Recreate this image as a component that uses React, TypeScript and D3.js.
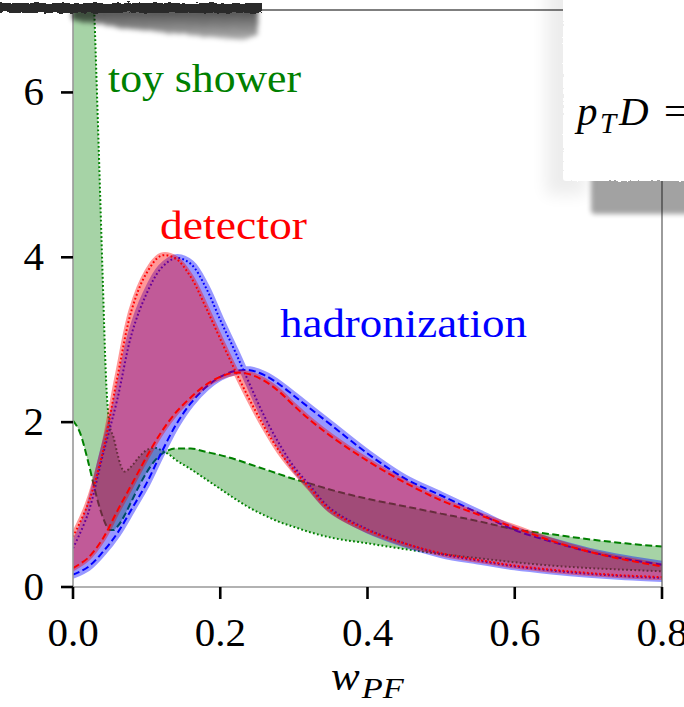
import React from "react";
import * as d3 from "d3";

// Axis ticks
const xTickValues = [0, 0.2, 0.4, 0.6, 0.8];
const xTickLabels = ["0.0", "0.2", "0.4", "0.6", "0.8"];
const yTickValues = [0, 2, 4, 6];
const yTickLabels = ["0", "2", "4", "6"];

// w_PF sample points for the detector / hadronization curves
const wGrid = [0, 0.02, 0.04, 0.06, 0.08, 0.1, 0.12, 0.14, 0.16, 0.18, 0.2, 0.22, 0.24, 0.26, 0.28, 0.3, 0.32, 0.35, 0.4, 0.45, 0.5, 0.55, 0.6, 0.65, 0.7, 0.75, 0.8];

// detector level: dotted (peaked) and dashed (broad) curves
const detectorDotted = [0.61, 1.0, 1.62, 2.53, 3.37, 3.81, 4.02, 3.98, 3.76, 3.4, 3.01, 2.63, 2.27, 1.94, 1.65, 1.42, 1.22, 0.93, 0.69, 0.53, 0.41, 0.33, 0.26, 0.21, 0.17, 0.14, 0.12];
const detectorDashed = [0.23, 0.35, 0.58, 0.92, 1.25, 1.58, 1.88, 2.12, 2.3, 2.45, 2.55, 2.6, 2.58, 2.5, 2.37, 2.2, 2.04, 1.83, 1.53, 1.27, 1.05, 0.88, 0.72, 0.56, 0.43, 0.33, 0.25];

// hadronization level
const hadronDotted = [0.47, 0.88, 1.58, 2.27, 3.08, 3.56, 3.87, 3.99, 3.92, 3.64, 3.24, 2.86, 2.46, 2.07, 1.74, 1.46, 1.25, 0.95, 0.7, 0.53, 0.4, 0.32, 0.25, 0.2, 0.16, 0.13, 0.11];
const hadronDashed = [0.15, 0.24, 0.42, 0.65, 0.95, 1.26, 1.63, 1.97, 2.23, 2.42, 2.55, 2.62, 2.63, 2.57, 2.46, 2.32, 2.18, 1.97, 1.62, 1.32, 1.11, 0.9, 0.69, 0.55, 0.43, 0.34, 0.27];

// toy shower: finer sampling near w_PF = 0
const toyGrid = [0, 0.01, 0.02, 0.03, 0.035, 0.04, 0.045, 0.05, 0.055, 0.06, 0.065, 0.07, 0.08, 0.09, 0.1, 0.11, 0.12, 0.13, 0.14, 0.16, 0.18, 0.2, 0.22, 0.24, 0.26, 0.28, 0.3, 0.32, 0.35, 0.4, 0.45, 0.5, 0.55, 0.6, 0.65, 0.7, 0.75, 0.8];
const toyDotted = [14, 11.6, 9.2, 6.7, 5.3, 3.85, 2.5, 1.95, 1.82, 1.63, 1.47, 1.4, 1.47, 1.58, 1.66, 1.69, 1.66, 1.61, 1.54, 1.43, 1.31, 1.19, 1.07, 0.96, 0.87, 0.79, 0.73, 0.67, 0.6, 0.53, 0.46, 0.4, 0.35, 0.3, 0.26, 0.23, 0.21, 0.19];
const toyDashed = [2.02, 1.86, 1.54, 1.17, 1.0, 0.86, 0.75, 0.69, 0.69, 0.73, 0.79, 0.87, 1.05, 1.23, 1.39, 1.52, 1.61, 1.66, 1.68, 1.68, 1.64, 1.6, 1.55, 1.49, 1.43, 1.37, 1.31, 1.26, 1.18, 1.07, 0.98, 0.89, 0.8, 0.7, 0.64, 0.58, 0.53, 0.49];

const seriesLabels = ["toy shower", "detector", "hadronization"];

const FONT = "'Liberation Serif', 'DejaVu Serif', serif";

export default function App() {
  const W = 684;
  const H = 707;
  const left = 73, right = 662, top = 10, bottom = 587;

  const x = d3.scaleLinear().domain([0, 0.8]).range([left, right]);
  const y = d3.scaleLinear().domain([0, 7]).range([bottom, top]);

  const areaPath = (grid: number[], a: number[], b: number[], curve: any) =>
    d3.area<number>()
      .x((d) => x(d))
      .y0((_, i) => y(a[i]))
      .y1((_, i) => y(b[i]))
      .curve(curve)(grid) || "";

  const linePath = (grid: number[], v: number[], curve: any) =>
    d3.line<number>()
      .x((d) => x(d))
      .y((_, i) => y(v[i]))
      .curve(curve)(grid) || "";

  const bands = [
    { key: "toy", grid: toyGrid, dotted: toyDotted, dashed: toyDashed, color: "#008000", alpha: 0.35, halo: 0, curve: d3.curveMonotoneX },
    { key: "had", grid: wGrid, dotted: hadronDotted, dashed: hadronDashed, color: "#0000ff", alpha: 0.4, halo: 8, curve: d3.curveCatmullRom.alpha(0.5) },
    { key: "det", grid: wGrid, dotted: detectorDotted, dashed: detectorDashed, color: "#ff0000", alpha: 0.4, halo: 6, curve: d3.curveCatmullRom.alpha(0.5) },
  ];

  return (
    <svg width={W} height={H} viewBox={`0 0 ${W} ${H}`} style={{ position: "fixed", left: 0, top: 0, background: "#fff" }} fontFamily={FONT}>
      <defs>
        <clipPath id="plotArea">
          <rect x={left} y={top} width={right - left} height={bottom - top} />
        </clipPath>
        <filter id="tornEdge" x="-5%" y="-60%" width="110%" height="220%">
          <feTurbulence type="fractalNoise" baseFrequency="0.12 0.35" numOctaves="3" seed="4" result="noise" />
          <feDisplacementMap in="SourceGraphic" in2="noise" scale="5" xChannelSelector="R" yChannelSelector="G" />
        </filter>
        <filter id="paperEdge" x="-5%" y="-5%" width="110%" height="110%">
          <feTurbulence type="fractalNoise" baseFrequency="0.35" numOctaves="2" seed="2" result="noise" />
          <feDisplacementMap in="SourceGraphic" in2="noise" scale="2.5" xChannelSelector="R" yChannelSelector="G" />
        </filter>
        <filter id="tornShadow" x="-20%" y="-60%" width="140%" height="220%">
          <feTurbulence type="fractalNoise" baseFrequency="0.1 0.3" numOctaves="2" seed="9" result="noise" />
          <feDisplacementMap in="SourceGraphic" in2="noise" scale="4" xChannelSelector="R" yChannelSelector="G" result="rough" />
          <feGaussianBlur in="rough" stdDeviation="2.6" />
        </filter>
        <filter id="softShadow" x="-20%" y="-40%" width="140%" height="180%">
          <feGaussianBlur stdDeviation="2.5" />
        </filter>
        <filter id="haze" x="-100%" y="-20%" width="300%" height="140%">
          <feGaussianBlur stdDeviation="8" />
        </filter>
        <linearGradient id="shadowFade" x1="0" y1="0" x2="0" y2="1">
          <stop offset="0" stopColor="#000" stopOpacity="0.72" />
          <stop offset="1" stopColor="#000" stopOpacity="0.3" />
        </linearGradient>
      </defs>

      <rect x={0} y={0} width={W} height={H} fill="#fff" />

      {/* bands and their bounding curves */}
      <g clipPath="url(#plotArea)">
        {bands.map((b) => (
          <g key={b.key}>
            <g opacity={b.alpha}>
              <path
                d={areaPath(b.grid, b.dashed, b.dotted, b.curve)}
                fill={b.color}
                stroke={b.halo > 0 ? b.color : "none"}
                strokeWidth={b.halo}
                strokeLinejoin="round"
              />
            </g>
            <path d={linePath(b.grid, b.dotted, b.curve)} fill="none" stroke={b.color} strokeWidth={2} strokeDasharray="1.8,2.3" />
            <path d={linePath(b.grid, b.dashed, b.curve)} fill="none" stroke={b.color} strokeWidth={2} strokeDasharray="7,3.4" />
          </g>
        ))}
      </g>

      {/* spines */}
      <line x1={left} y1={top} x2={left} y2={bottom} stroke="#999" strokeWidth={1.6} />
      <line x1={left} y1={bottom} x2={right} y2={bottom} stroke="#999" strokeWidth={1.6} />
      <line x1={right} y1={top} x2={right} y2={bottom} stroke="#666" strokeWidth={1.3} />
      <line x1={left} y1={top} x2={right} y2={top} stroke="#555" strokeWidth={1.4} />

      {/* ticks */}
      {xTickValues.map((v, i) => (
        <g key={`xt${i}`}>
          <line x1={x(v)} y1={bottom} x2={x(v)} y2={bottom + 12} stroke="#000" strokeWidth={2.6} />
          <text x={x(v)} y={646} textAnchor="middle" fontSize={41} fill="#000">
            {xTickLabels[i]}
          </text>
        </g>
      ))}
      {yTickValues.map((v, i) => (
        <g key={`yt${i}`}>
          <line x1={left - 12} y1={y(v)} x2={left} y2={y(v)} stroke="#000" strokeWidth={2.6} />
          <text x={44} y={y(v) + 13} textAnchor="end" fontSize={41} fill="#000">
            {yTickLabels[i]}
          </text>
        </g>
      ))}

      {/* x axis label */}
      <text x={331} y={690} fontSize={43} fill="#000" fontStyle="italic">
        w
        <tspan fontSize={30} dy={8} dx={2} textLength={42} lengthAdjust="spacingAndGlyphs">PF</tspan>
      </text>

      {/* series annotations */}
      <text x={108} y={92} fontSize={41} fill="#008000" textLength={193} lengthAdjust="spacingAndGlyphs">{seriesLabels[0]}</text>
      <text x={160} y={239} fontSize={41} fill="#ff0000" textLength={147} lengthAdjust="spacingAndGlyphs">{seriesLabels[1]}</text>
      <text x={280} y={337} fontSize={41} fill="#0000ff" textLength={247} lengthAdjust="spacingAndGlyphs">{seriesLabels[2]}</text>

      {/* torn strip along the top-left edge */}
      <path d="M72,9 L258,8 L258,34 L244,40 L200,36 L160,32 L120,28 L92,23 L72,20 Z" fill="url(#shadowFade)" filter="url(#tornShadow)" />
      <rect x={-10} y={3} width={272} height={10} fill="#2b2b2b" filter="url(#tornEdge)" />

      {/* torn legend card at top-right */}
      <rect x={546} y={-20} width={40} height={215} fill="#000" opacity={0.07} filter="url(#haze)" />
      <rect x={591} y={172} width={110} height={42} rx={4} fill="#000" opacity={0.36} filter="url(#softShadow)" />
      <rect x={563} y={-20} width={140} height={201} rx={3} fill="#fff" filter="url(#paperEdge)" />
      <text y={125} fontSize={41} fill="#000">
        <tspan x={577} fontStyle="italic">p</tspan>
        <tspan x={600} dy={8} fontSize={29} fontStyle="italic">T</tspan>
        <tspan x={619} dy={-8} fontStyle="italic">D</tspan>
        <tspan x={664}>=</tspan>
      </text>
    </svg>
  );
}
